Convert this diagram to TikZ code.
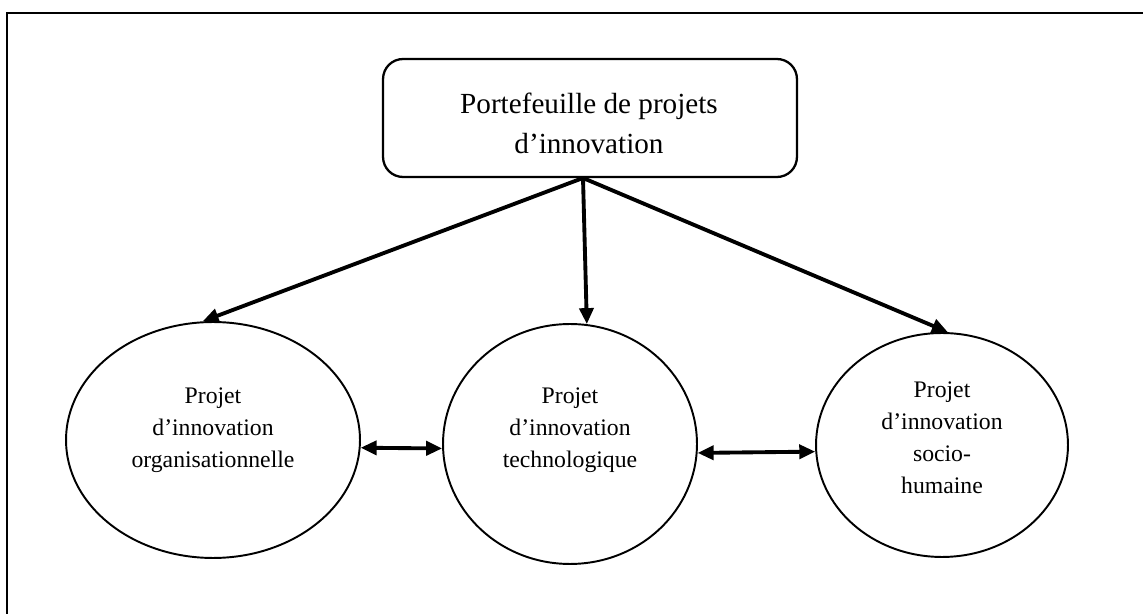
\documentclass[tikz,border=0pt]{standalone}
\usepackage{fontspec}
\setmainfont{Liberation Serif}
\usetikzlibrary{arrows.meta,shapes.geometric}

\begin{document}
\begin{tikzpicture}[x=0.02cm,y=-0.02cm,
		fleche/.style={line width=2.2pt,-{Triangle[length=0.32cm,width=0.28cm]}},
		dfleche/.style={line width=2.2pt,{Triangle[length=0.32cm,width=0.28cm]}-{Triangle[length=0.32cm,width=0.28cm]}},
		projet/.style={draw,ellipse,line width=1.1pt,inner sep=0pt},
		projtexte/.style={align=center,font=\fontsize{13.5pt}{18.2pt}\selectfont}]
		\useasboundingbox (0,0) rectangle (1143,614);
		\clip (0,0) rectangle (1143,614);
		\draw[line width=1.25pt] (7,13) rectangle (1170,640);
		\node[draw,line width=1.3pt,rounded corners=0.4cm,minimum width=8.28cm,minimum height=2.36cm] (portef) at (590,118) {};
		\node[align=center,font=\fontsize{16.6pt}{22.8pt}\selectfont] (portef-t) at (589,123)
			{Portefeuille de projets\\d'innovation};
		% les trois projets
		\node[projet,minimum width=5.88cm,minimum height=4.72cm] (orga) at (213,440) {};
		\node[projet,minimum width=5.08cm,minimum height=4.8cm] (techno) at (570,444) {};
		\node[projet,minimum width=5.04cm,minimum height=4.48cm] (socio) at (942,445) {};
		\node[projtexte] (orga-t) at (213,430) {Projet\\d'innovation\\organisationnelle};
		\node[projtexte] (techno-t) at (570,430) {Projet\\d'innovation\\technologique};
		\node[projtexte] (socio-t) at (942,438) {Projet\\d'innovation\\socio-\\humaine};
		\coordinate (fourche) at (583,178);
		\draw[fleche] (fourche) -- (orga.95);
		\draw[fleche] (fourche) -- (techno.82);
		\draw[fleche] (fourche) -- (socio.87);
		\draw[dfleche] (orga.-3) -- (techno.182);
		\draw[dfleche] (techno.-4) -- (socio.183);
	\end{tikzpicture}
\end{document}
